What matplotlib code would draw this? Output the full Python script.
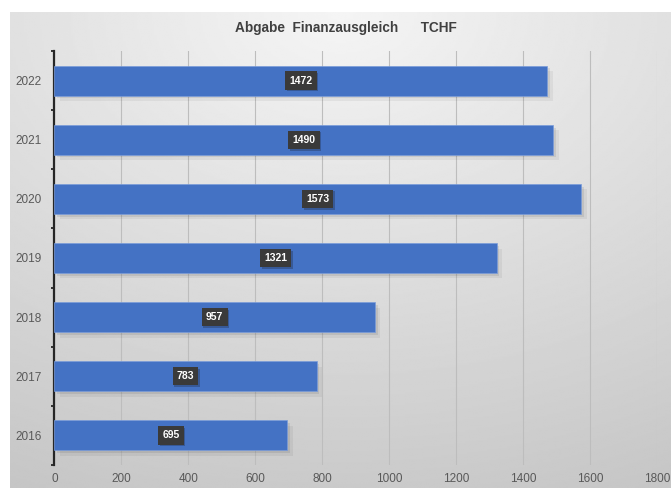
import numpy as np
import matplotlib
matplotlib.use("Agg")
import matplotlib.pyplot as plt
import matplotlib.patheffects as pe
from matplotlib.ticker import MultipleLocator, FixedLocator

years = ["2016", "2017", "2018", "2019", "2020", "2021", "2022"]
values = [695, 783, 957, 1321, 1573, 1490, 1472]
title = "Abgabe  Finanzausgleich      TCHF"

plt.rcParams["font.family"] = ["Liberation Sans", "DejaVu Sans"]

W, H = 671, 488
fig = plt.figure(figsize=(W / 100, H / 100), dpi=100)
fig.patch.set_facecolor("white")

# soft gradient backdrop of the chart frame
bg = fig.add_axes([10 / W, 0, 1 - 10 / W, 1 - 12 / H])
bg.set_axis_off()
yy, xx = np.mgrid[0:1:300j, 0:1:300j]
dist = np.sqrt(((xx - 0.5) * 1.0) ** 2 + ((yy - 0.0) * 1.05) ** 2)
shade = 0.96 - 0.16 * np.clip(dist, 0, 1.2)
bg.imshow(shade, cmap="gray", vmin=0, vmax=1, aspect="auto",
          extent=[0, 1, 0, 1], origin="upper", interpolation="bilinear")
bg.set_xlim(0, 1)
bg.set_ylim(0, 1)

x0, x1 = 54.5 / W, 657 / W
y_top, y_bot = 51 / H, 465 / H
ax = fig.add_axes([x0, 1 - y_bot, x1 - x0, y_bot - y_top])
ax.patch.set_alpha(0)

pos = np.arange(len(years))
shadow = [pe.SimplePatchShadow(offset=(2, -2), shadow_rgbFace="#000000", alpha=0.08),
          pe.SimplePatchShadow(offset=(4, -4), shadow_rgbFace="#000000", alpha=0.05),
          pe.Normal()]
bars = ax.barh(pos, values, height=0.505, color="#4472c4", edgecolor="#7a9cda",
               linewidth=0.5, zorder=3)
for b in bars:
    b.set_path_effects(shadow)

for p, v in zip(pos, values):
    t = ax.text(v / 2, p, str(v), ha="center", va="center", fontsize=7.5,
                fontweight="bold", color="white", zorder=5,
                bbox=dict(boxstyle="square,pad=0.4", fc="#3a3a3a", ec="none"))
    t.get_bbox_patch().set_path_effects(
        [pe.SimplePatchShadow(offset=(1.2, -1.2), alpha=0.25), pe.Normal()])

ax.set_xlim(0, 1800)
ax.set_ylim(-0.5, len(years) - 0.5)
ax.xaxis.set_major_locator(MultipleLocator(200))
ax.grid(axis="x", color="#bdbdbd", linewidth=0.8, zorder=0)
ax.set_axisbelow(True)

ax.set_yticks(pos)
ax.set_yticklabels(years)
ax.yaxis.set_minor_locator(FixedLocator(np.arange(-0.5, len(years), 1.0)))
ax.tick_params(axis="y", which="major", length=0, pad=9, labelsize=8.5, labelcolor="#595959")
ax.tick_params(axis="y", which="minor", length=2.5, width=1.3, color="#262626", direction="out")
ax.tick_params(axis="x", length=0, pad=6, labelsize=8.5, labelcolor="#595959")
for s in ["top", "right", "bottom"]:
    ax.spines[s].set_visible(False)
ax.spines["left"].set_color("#262626")
ax.spines["left"].set_linewidth(1.6)

fig.text(346 / W, 1 - 28 / H, title, ha="center", va="center", fontsize=9.8,
         fontweight="bold", color="#404040")

fig.savefig("out.png", dpi=100)
